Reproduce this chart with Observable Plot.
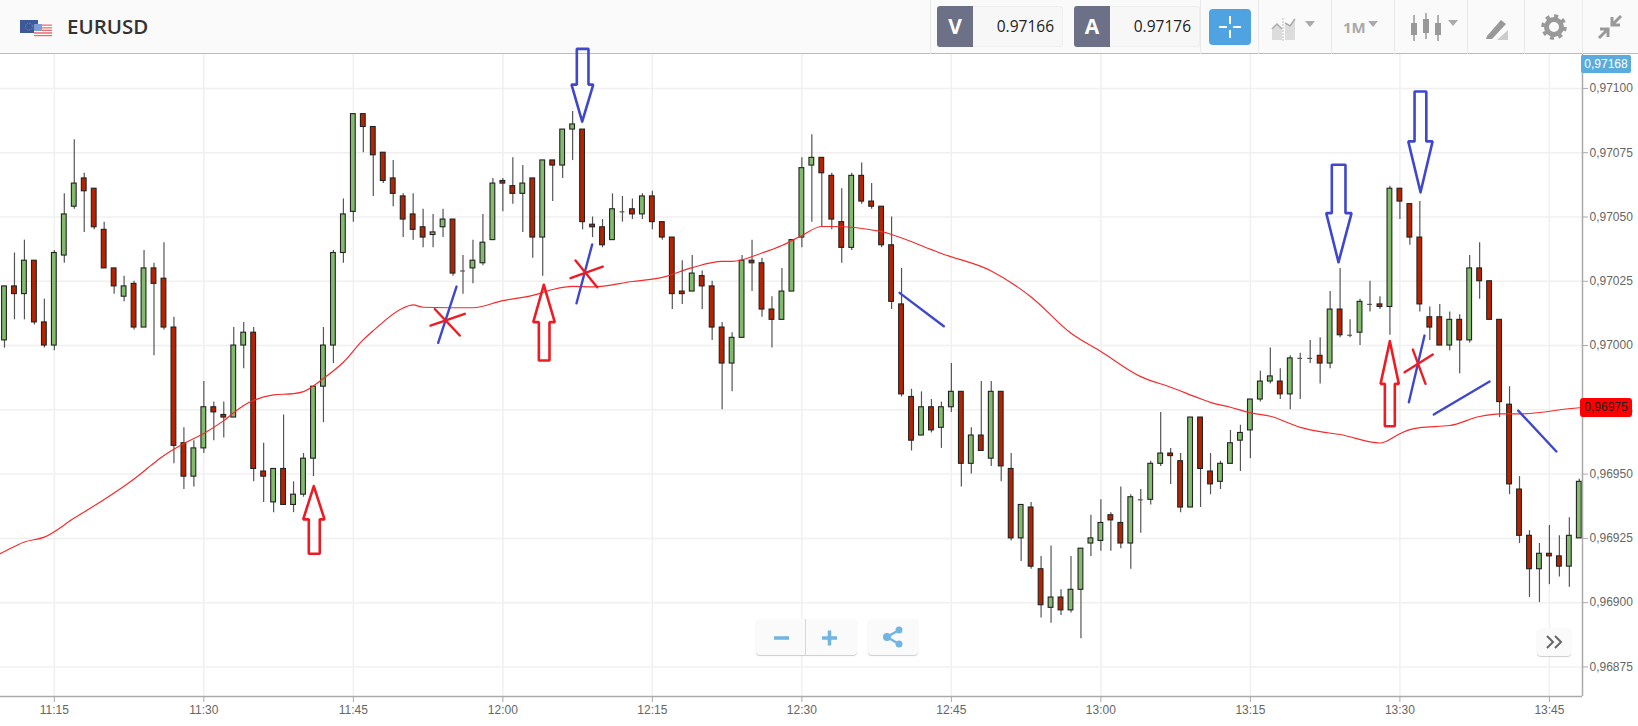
<!DOCTYPE html>
<html>
<head>
<meta charset="utf-8">
<script src="https://cdn.jsdelivr.net/npm/d3@7"></script>
<script src="https://cdn.jsdelivr.net/npm/@observablehq/plot@0.6"></script>
<style>
html,body{margin:0;padding:0;background:#fff;width:1638px;height:726px;overflow:hidden;font-family:"Liberation Sans",Arial,sans-serif}
#page{position:relative;width:1638px;height:726px}
#head{position:relative;height:53px;background:#fafafa;border-bottom:1px solid #bbb;z-index:0}
#chart{position:relative;height:672px;z-index:2}
#chart svg{overflow:visible;display:block;background:transparent}
.abs{position:absolute;box-sizing:border-box}
.sym{left:67px;top:11px;font:600 20.5px/30px "Open Sans",sans-serif;color:#333}
.lab{top:6px;height:41px;width:36px;background:#6d7187;color:#fff;font:700 21px/41px "Open Sans",sans-serif;text-align:center;border-radius:3px 0 0 3px}
.val{top:6px;height:41px;background:#f7f7f7;border:1px solid #eee;border-left:0;border-radius:0 3px 3px 0;color:#222;font:15.5px/39px "Open Sans",sans-serif;text-align:right;padding-right:8px}
.sep{top:0;width:1px;height:54px;background:#eaeaea}
.tag{font:12px/18px "Liberation Sans",sans-serif;text-align:center;border-radius:3px;z-index:5}
.btn{background:#fafafa;border-radius:4px;box-shadow:0 1px 1px #ccc;z-index:4}
</style>
</head>
<body>
<div id="page">
  <div id="head">
    <svg class="abs" style="left:20px;top:19px" width="33" height="18" viewBox="0 0 33 18">
      <rect x="0" y="1" width="18" height="13" fill="#3c5a99"/>
      <circle cx="9" cy="7.5" r="3.5" fill="none" stroke="#7f8fb5" stroke-dasharray="1 1"/>
      <rect x="14" y="5" width="18" height="13" fill="#fff"/>
      <path d="M14 6.2h18M14 8.8h18M14 11.4h18M14 14h18M14 16.6h18" stroke="#ea6a6a" stroke-width="1.3"/>
      <rect x="14" y="5" width="8" height="7" fill="#7d9bd6"/>
    </svg>
    <div class="abs sym">EURUSD</div>
    <div class="abs sep" style="left:930px"></div>
    <div class="abs lab" style="left:937px">V</div>
    <div class="abs val" style="left:973px;width:90px">0.97166</div>
    <div class="abs lab" style="left:1074px">A</div>
    <div class="abs val" style="left:1110px;width:90px">0.97176</div>
    <div class="abs sep" style="left:1200px"></div>
    <svg class="abs" style="left:1209px;top:9px" width="42" height="36" viewBox="0 0 42 36">
      <rect width="42" height="36" rx="4" fill="#4fa3e0"/>
      <path d="M21 7v8M21 21v8M10 18h8M24 18h8" stroke="#fff" stroke-width="2"/>
    </svg>
    <div class="abs sep" style="left:1258px"></div>
    <svg class="abs" style="left:1270px;top:14px" width="50" height="28" viewBox="0 0 50 28">
      <path d="M2 26V16l5-5 5 5v10zM15 26V10l5 3 5-7v20z" fill="#dcdcdc"/>
      <path d="M2 15l5-5 5 5M15 9l5 3 5-7" fill="none" stroke="#aaa" stroke-width="1.5"/>
      <path d="M13 4v24" stroke="#bbb" stroke-dasharray="2 1"/>
      <path d="M35 7h10l-5 6z" fill="#aaa"/>
    </svg>
    <div class="abs sep" style="left:1331px"></div>
    <div class="abs" style="left:1343px;top:14px;font:700 15px/26px 'Open Sans',sans-serif;color:#aaa">1M</div>
    <svg class="abs" style="left:1367px;top:19px" width="12" height="10" viewBox="0 0 12 10"><path d="M1 2h10l-5 6z" fill="#aaa"/></svg>
    <div class="abs sep" style="left:1394px"></div>
    <svg class="abs" style="left:1409px;top:12px" width="52" height="32" viewBox="0 0 52 32">
      <path d="M5 3v26M17 1v26M29 3v26" stroke="#999" stroke-width="1.5"/>
      <rect x="2" y="11" width="6" height="12" fill="#999"/><rect x="14" y="7" width="6" height="14" fill="#999"/><rect x="26" y="11" width="6" height="12" fill="#999"/>
      <path d="M39 8h10l-5 6z" fill="#aaa"/>
    </svg>
    <div class="abs sep" style="left:1467px"></div>
    <svg class="abs" style="left:1483px;top:16px" width="28" height="26" viewBox="0 0 28 26">
      <path d="M4 20L18 4l5 4L9 23H3z" fill="#999"/><path d="M14 24l11-10v10z" fill="#ccc"/>
    </svg>
    <div class="abs sep" style="left:1524px"></div>
    <svg class="abs" style="left:1541px;top:14px" width="26" height="26" viewBox="0 0 26 26">
      <circle cx="13" cy="13" r="7.5" fill="none" stroke="#999" stroke-width="5"/>
      <circle cx="13" cy="13" r="11" fill="none" stroke="#999" stroke-width="3.5" stroke-dasharray="4 4.6"/>
    </svg>
    <div class="abs sep" style="left:1582px"></div>
    <svg class="abs" style="left:1597px;top:14px" width="26" height="26" viewBox="0 0 26 26">
      <path d="M24 2l-8 8M15 3v8h8M2 24l8-8M11 23v-8H3" fill="none" stroke="#999" stroke-width="3"/>
    </svg>
  </div>
  <div id="chart"></div>

  <div class="abs tag" style="left:1581px;top:55px;width:50px;height:18px;background:#5aacdc;color:#fff;border-radius:2px">0,97168</div>
  <div class="abs tag" style="left:1580px;top:398px;width:52px;height:19px;background:#f00;color:#222;line-height:19px">0,96975</div>

  <div class="abs btn" style="left:756px;top:619px;width:101px;height:36px"></div>
  <div class="abs" style="left:805px;top:619px;width:1px;height:36px;background:#d8d8d8;z-index:4"></div>
  <svg class="abs" style="left:772px;top:628px;z-index:5" width="70" height="20" viewBox="0 0 70 20">
    <path d="M2 10h15M50 10h15M57.500 2.500v15" stroke="#72b4e2" stroke-width="3.500" fill="none"/>
  </svg>
  <div class="abs btn" style="left:868px;top:619px;width:50px;height:36px"></div>
  <svg class="abs" style="left:882px;top:626px;z-index:5" width="22" height="22" viewBox="0 0 22 22">
    <path d="M5 11L17 4M5 11l12 7" stroke="#72b4e2" stroke-width="2.500"/>
    <circle cx="5" cy="11" r="4" fill="#72b4e2"/><circle cx="17" cy="4" r="3.500" fill="#72b4e2"/><circle cx="17" cy="18" r="3.500" fill="#72b4e2"/>
  </svg>
  <div class="abs btn" style="left:1537px;top:628px;width:34px;height:28px"></div>
  <svg class="abs" style="left:1545px;top:634px;z-index:5" width="20" height="16" viewBox="0 0 20 16">
    <path d="M2 2l6 6-6 6M10 2l6 6-6 6" fill="none" stroke="#666" stroke-width="2"/>
  </svg>
</div>

<script>
// Prices are given in pipettes (0.00001) above 0.97000; candles run one per minute from 11:10.
const firstCandle = "11:10";
const open = [
  2,23,20,33,9,0,35,54,65,61,45,30,19,24,7,30,26,7,-38,-51,
  -40,-24,-27,-28,0,5,-49,-61,-48,-62,-58,-44,-16,0,36,52,90,85,75,65,
  58,51,46,43,46,49,29,30,32,41,64,62,59,65,42,72,70,84,84,47,
  46,41,52,53,51,58,48,42,21,21,27,23,7,-7,3,33,32,14,10,21,
  42,70,73,66,48,38,66,56,54,39,16,-20,-35,-24,-32,-24,-18,-46,-35,-44,
  -18,-48,-75,-63,-87,-102,-98,-103,-95,-77,-76,-66,-69,-77,-60,-60,-46,-42,-45,-63,
  -28,-49,-53,-46,-37,-33,-21,-14,-14,-19,-5,-5,-4,-7,14,4,5,16,16,15,
  61,55,42,11,11,0,10,2,30,25,10,-23,-56,-74,-87,-81,-82,-86,-75];
const high = [
  23,36,41,33,18,37,59,80,67,61,48,30,27,25,37,32,40,11,-32,-37,
  -14,-22,-22,7,9,7,-38,-48,-27,-53,-42,-16,7,37,57,90,90,85,75,72,
  59,59,53,51,53,49,35,41,51,65,65,73,70,65,72,72,84,91,84,50,
  49,59,58,57,59,60,48,42,33,35,29,25,9,5,35,41,34,19,30,41,
  73,82,73,67,61,67,71,63,54,50,30,-17,-18,-21,-22,-7,-18,-32,-14,-14,
  -18,-42,-62,-61,-82,-78,-95,-82,-79,-66,-60,-65,-55,-58,-56,-45,-26,-40,-42,-28,
  -28,-42,-45,-33,-31,-21,-10,-1,-9,-4,-3,2,3,21,30,10,18,25,19,62,
  61,55,56,15,16,13,12,35,40,25,10,-16,-51,-72,-77,-70,-74,-67,-52];
const low = [
  -1,10,10,8,-1,-2,32,53,44,45,30,20,17,6,7,-4,6,-46,-56,-55,
  -42,-37,-36,-28,-9,-53,-61,-65,-62,-65,-59,-51,-30,-7,32,48,75,58,63,54,
  42,41,38,38,42,27,20,24,31,41,52,55,44,34,27,56,65,72,45,42,
  38,41,48,49,49,45,41,14,16,21,14,2,-25,-18,3,21,11,-1,10,21,
  38,48,46,45,32,37,55,53,38,14,-20,-41,-35,-34,-40,-26,-55,-50,-41,-47,
  -53,-76,-84,-87,-106,-108,-105,-104,-114,-82,-80,-80,-79,-87,-73,-62,-47,-54,-65,-63,
  -63,-58,-56,-46,-49,-44,-22,-15,-21,-25,-21,-7,-15,-9,3,3,0,13,14,4,
  49,39,13,2,0,-2,-11,1,18,10,-28,-58,-77,-98,-100,-93,-90,-94,-75];
const close = [
  23,20,33,9,0,36,51,63,60,46,30,23,23,7,30,24,7,-39,-51,-40,
  -24,-26,-28,0,5,-48,-51,-48,-62,-58,-44,-16,0,36,51,90,85,74,64,59,
  49,45,42,44,49,28,29,33,40,63,63,59,63,42,72,70,84,86,48,46,
  39,53,52,51,58,48,42,20,20,28,23,7,-7,3,33,32,14,10,21,41,
  69,73,67,49,38,66,56,54,39,17,-19,-37,-24,-33,-24,-18,-46,-35,-41,-18,
  -47,-75,-62,-86,-101,-98,-103,-95,-79,-75,-69,-68,-77,-59,-60,-46,-42,-43,-63,-28,
  -48,-54,-46,-38,-34,-21,-14,-12,-19,-5,-5,-5,-7,14,4,4,17,16,15,61,
  56,42,16,7,0,10,2,30,25,10,-22,-54,-74,-87,-81,-82,-86,-74,-53];

// The red moving average, read at clock times.
const maTimes = ["11:09","11:10","11:12","11:14","11:17","11:20","11:23","11:25","11:26","11:28","11:30","11:32","11:34","11:37","11:39","11:40","11:42","11:44","11:46","11:47","11:50","11:51","11:52","11:57","12:00","12:03","12:05","12:07","12:09","12:13","12:16","12:19","12:22","12:23","12:26","12:28","12:30","12:32","12:33","12:38","12:39","12:43","12:44","12:49","12:53","12:57","13:00","13:04","13:07","13:10","13:11","13:13","13:15","13:17","13:20","13:22","13:24","13:28","13:30","13:31","13:32","13:35","13:38","13:40","13:42","13:48","13:49"];
const maValues = [0.969179,0.969199,0.969236,0.969255,0.969329,0.969401,0.969481,0.969543,0.969572,0.969619,0.969658,0.969708,0.969767,0.969808,0.969813,0.969821,0.969872,0.969935,0.970023,0.970058,0.970146,0.970158,0.970149,0.970147,0.970175,0.970195,0.970218,0.970230,0.970228,0.970249,0.970265,0.970303,0.970327,0.970327,0.970360,0.970389,0.970428,0.970463,0.970463,0.970443,0.970432,0.970373,0.970358,0.970290,0.970189,0.970048,0.969977,0.969879,0.969838,0.969793,0.969779,0.969760,0.969738,0.969725,0.969682,0.969665,0.969654,0.969621,0.969657,0.969673,0.969681,0.969689,0.969724,0.969734,0.969734,0.969758,0.969760];

const timeTicks = ["11:15","11:30","11:45","12:00","12:15","12:30","12:45","13:00","13:15","13:30","13:45"];
const priceTicks = [0.96875,0.96900,0.96925,0.96950,0.96975,0.97000,0.97025,0.97050,0.97075,0.97100];

// Hand-drawn annotations: each shape is a list of [minutes after 11:10, pipettes above 0.97000].
const redArrows = [
  [[31.03,-54.7],[29.97,-67.6],[30.53,-67.6],[30.53,-81],[31.63,-81],[31.63,-67.6],[32.11,-67.6],[31.03,-54.7]],
  [[54.11,23.6],[53.05,9.1],[53.61,9.1],[53.61,-5.8],[54.68,-5.8],[54.68,9.1],[55.21,9.1],[54.11,23.6]],
  [[138.99,1.7],[138.06,-14.9],[138.49,-14.9],[138.49,-31.4],[139.49,-31.4],[139.49,-14.9],[139.89,-14.9],[138.99,1.7]]
];
const blueArrows = [
  [[57.96,87.1],[56.89,101.5],[57.42,101.5],[57.42,115.4],[58.59,115.4],[58.59,101.5],[59.07,101.5],[57.96,87.1]],
  [[133.84,32.4],[132.61,51.5],[133.17,51.5],[133.17,70.3],[134.54,70.3],[134.54,51.5],[135.15,51.5],[133.84,32.4]],
  [[142.07,59.6],[140.84,79.4],[141.47,79.4],[141.47,98.8],[142.65,98.8],[142.65,79.4],[143.28,79.4],[142.07,59.6]]
];
const blueStrokes = [
  [[45.35,22.95],[43.51,1.05]],
  [[58.96,39.3],[57.39,16.45]],
  [[142.47,3.89],[140.9,-22.06]],
  [[89.8,20.5],[94.24,7.5]],
  [[143.4,-26.84],[149,-14]],
  [[151.87,-25.3],[155.7,-41.2]]
];
const redStrokes = [
  [[42.74,7.78],[46.18,12.33]],
  [[43.17,14.2],[45.68,3.89]],
  [[56.79,26.2],[60.03,30.7]],
  [[57.29,33.07],[59.47,22.68]],
  [[140.47,-10.39],[143.3,-3.5]],
  [[141.3,-1.56],[142.57,-14.9]]
];

// Helpers
const price = p => 0.97 + p / 1e5;
const baseMs = Date.UTC(2022, 7, 22, 11, 10);
const atMinute = m => new Date(baseMs + m * 60000);
const atClock = s => { const [h, m] = s.split(":").map(Number); return new Date(Date.UTC(2022, 7, 22, h, m)); };

const candles = open.map((o, i) => ({
  t: atMinute(i), o: price(o), h: price(high[i]), l: price(low[i]), c: price(close[i]),
  x1: atMinute(i - 0.24), x2: atMinute(i + 0.24),
  dir: close[i] > o ? 1 : close[i] < o ? -1 : 0
}));
const ma = maTimes.map((s, i) => ({t: atClock(s), v: maValues[i]}));
const shapeRows = shapes => shapes.flatMap((pts, id) => pts.map(([m, p]) => ({id, t: atMinute(m), v: price(p)})));
const bodyMarks = candles.filter(d => d.dir !== 0);
const dojis = candles.filter(d => d.dir === 0);

const xMin = atMinute(-0.401), xMax = atMinute(158.32);
const yMin = price(-136.5), yMax = price(113.2);
const gridCol = "#f0f0f0", axisCol = "#aaa", textCol = "#666";

const chart = Plot.plot({
  width: 1638, height: 672,
  marginLeft: 0, marginRight: 56, marginTop: 0, marginBottom: 30,
  x: {type: "utc", domain: [xMin, xMax]},
  y: {domain: [yMin, yMax]},
  style: {fontFamily: "Liberation Sans, Arial, sans-serif", fontSize: "12px", background: "transparent", overflow: "visible"},
  marks: [
    Plot.ruleX(timeTicks.map(atClock), {stroke: gridCol, strokeWidth: 1.5, strokeOpacity: 1}),
    Plot.ruleY(priceTicks, {stroke: gridCol, strokeWidth: 1.5, strokeOpacity: 1}),
    Plot.ruleX(candles, {x: "t", y1: "l", y2: "h", stroke: "#555", strokeWidth: 1.2}),
    Plot.rect(bodyMarks, {x1: "x1", x2: "x2", y1: d => Math.min(d.o, d.c), y2: d => Math.max(d.o, d.c),
      fill: d => d.dir > 0 ? "#82bb6c" : "#b52400", stroke: "#222", strokeWidth: 1.1}),
    Plot.ruleY(dojis, {y: "c", x1: "x1", x2: "x2", stroke: "#555", strokeWidth: 1.2}),
    Plot.line(ma, {x: "t", y: "v", stroke: "#f52b2b", strokeWidth: 1.2, curve: "monotone-x", clip: true}),
    Plot.line(shapeRows(redArrows), {x: "t", y: "v", z: "id", stroke: "#ed1c24", strokeWidth: 2.6, strokeLinejoin: "miter"}),
    Plot.line(shapeRows(blueArrows), {x: "t", y: "v", z: "id", stroke: "#3f48cc", strokeWidth: 2.6, strokeLinejoin: "miter"}),
    Plot.line(shapeRows(blueStrokes), {x: "t", y: "v", z: "id", stroke: "#3f48cc", strokeWidth: 2.4}),
    Plot.line(shapeRows(redStrokes), {x: "t", y: "v", z: "id", stroke: "#ed1c24", strokeWidth: 2.4}),
    Plot.ruleX([xMax], {stroke: axisCol, strokeWidth: 1.5}),
    Plot.ruleY([yMin], {stroke: axisCol, strokeWidth: 1.5}),
    Plot.axisX({ticks: timeTicks.map(atClock), tickFormat: d3.utcFormat("%H:%M"), tickSize: 6, tickPadding: 3,
      stroke: axisCol, color: textCol, fontSize: 12, label: null}),
    Plot.axisY({anchor: "right", ticks: priceTicks, tickFormat: d => d.toFixed(5).replace(".", ","), tickSize: 5, tickPadding: 2,
      stroke: axisCol, color: textCol, fontSize: 12, label: null})
  ]
});
document.getElementById("chart").appendChild(chart);
</script>
</body>
</html>
